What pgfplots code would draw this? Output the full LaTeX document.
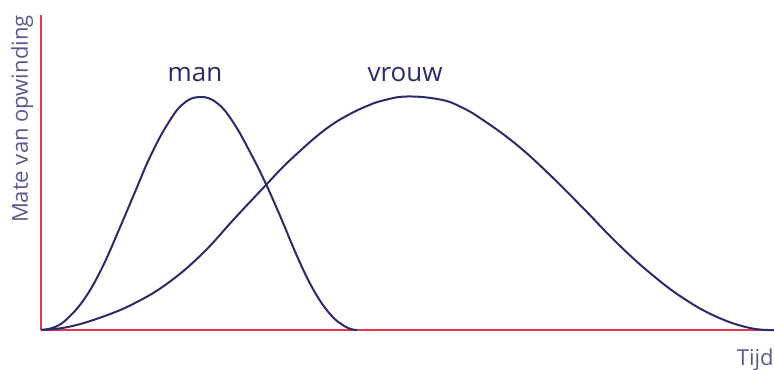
\documentclass[border=0pt]{standalone}
\usepackage{fontspec}
\setmainfont{Open Sans}
\usepackage{pgfplots}
\pgfplotsset{compat=1.18}
\definecolor{asrood}{HTML}{E8344F}
\definecolor{lijn}{HTML}{2B2B6B}
\definecolor{tekst}{HTML}{5A5A90}
\begin{document}
\begin{tikzpicture}
\begin{axis}[
    name=ax,
    scale only axis,
    width=366.5pt,
    height=157.5pt,
    xmin=0, xmax=733,
    ymin=0, ymax=315,
    axis x line=bottom,
    axis y line=left,
    axis line style={asrood, line width=1.2pt, -},
    ticks=none,
    clip=false,
]
% man
\addplot[lijn, line width=1pt, smooth, tension=0.7] coordinates {
    (0,0) (14,3) (27,12) (44,32) (61,62) (77,98) (94,138) (109,173)
    (126,205) (142,226) (159,233) (176,227) (192,208) (209,178)
    (224,148) (240,112) (256,74) (272,41) (289,16) (305,3) (316,0)
};
% vrouw
\addplot[lijn, line width=1pt, smooth, tension=0.7] coordinates {
    (0,0) (27,3) (61,13) (94,27) (127,47) (161,76) (194,112)
    (224,144) (242,163) (259,179) (276,194) (292,206) (309,216)
    (326,224) (342,229.5) (366,233.5) (399,230.5) (420,223) (442,210)
    (476,185) (509,155) (542,122) (576,87) (609,57) (642,32)
    (676,13) (709,2) (733,0)
};
\node[anchor=base, lijn, font=\fontsize{13}{15}\selectfont] at (axis cs:154,248) {man};
\node[anchor=base, lijn, font=\fontsize{13}{15}\selectfont] at (axis cs:364,248) {vrouw};
\node[anchor=base east, tekst, font=\fontsize{11}{13}\selectfont, inner sep=0pt] at (axis cs:733,-35) {Tijd};
\node[anchor=base east, rotate=90, tekst, font=\fontsize{11}{13}\selectfont, inner sep=0pt] at (axis cs:-13,315) {Mate van opwinding};
\end{axis}
\pgfresetboundingbox
\path[use as bounding box] ([shift={(-20.5pt,-19.5pt)}]ax.south west) rectangle ([shift={(0pt,7.5pt)}]ax.north east);
\end{tikzpicture}
\end{document}
